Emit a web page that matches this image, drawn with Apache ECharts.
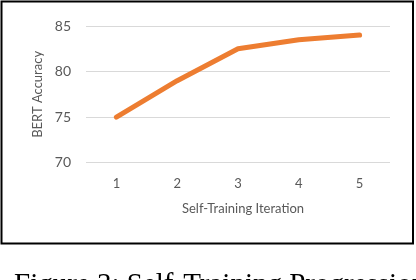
<!DOCTYPE html>
<html>
<head>
<meta charset="utf-8">
<script src="https://cdn.jsdelivr.net/npm/echarts@6/dist/echarts.min.js"></script>
<style>
html,body{margin:0;padding:0;background:#fff;}
#c{width:416px;height:280px;}
</style>
</head>
<body>
<div id="c"></div>
<script>
const iterations = ['1', '2', '3', '4', '5'];
const bertAccuracy = [75.0, 79.0, 82.5, 83.5, 84.0];
const yTicks = [70, 75, 80, 85];
const yAxisName = 'BERT Accuracy';
const xAxisName = 'Self-Training Iteration';
const caption = 'Figure 3: Self-Training Progression';

const chart = echarts.init(document.getElementById('c'), null, {renderer: 'canvas'});
const labelFont = 'Lato, "Open Sans", sans-serif';
chart.setOption({
  animation: false,
  backgroundColor: '#ffffff',
  grid: {left: 86, right: 26, top: 26, bottom: 117.3, containLabel: false},
  xAxis: {
    type: 'category',
    data: iterations,
    boundaryGap: true,
    axisLine: {show: false},
    axisTick: {show: false},
    axisLabel: {color: '#595959', fontSize: 13, fontFamily: labelFont, margin: 15},
    name: xAxisName,
    nameLocation: 'middle',
    nameGap: 40,
    nameTextStyle: {color: '#595959', fontSize: 13, fontFamily: labelFont, padding: [0, 0, 0, 10]}
  },
  yAxis: {
    type: 'value',
    min: yTicks[0],
    max: yTicks[yTicks.length - 1],
    interval: 5,
    axisLine: {show: false},
    axisTick: {show: false},
    splitLine: {lineStyle: {color: '#D9D9D9', width: 1}},
    axisLabel: {color: '#595959', fontSize: 14, fontFamily: labelFont, margin: 15},
    name: yAxisName,
    nameLocation: 'middle',
    nameRotate: 90,
    nameGap: 40,
    nameTextStyle: {color: '#595959', fontSize: 13, fontFamily: labelFont}
  },
  series: [{
    type: 'line',
    data: bertAccuracy,
    showSymbol: false,
    symbol: 'none',
    lineStyle: {color: '#ED7D31', width: 5, cap: 'round', join: 'round'}
  }],
  graphic: [
    {type: 'rect', shape: {x: 1.5, y: 1.5, width: 411.5, height: 242}, style: {fill: 'none', stroke: '#000', lineWidth: 2}, silent: true},
    {type: 'text', left: 14, top: 271, style: {text: caption, fill: '#000', font: '29px "Liberation Serif", "DejaVu Serif", serif'}}
  ]
});
</script>
</body>
</html>
